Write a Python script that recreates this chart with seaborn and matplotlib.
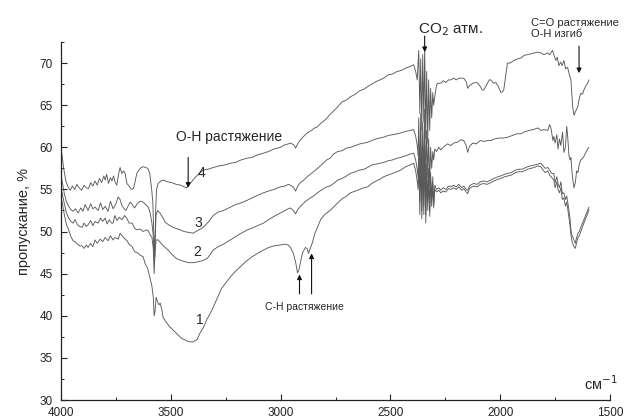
"""
IR transmission spectra (curves 1-4), recreated with seaborn.
"""
import matplotlib
matplotlib.use("Agg")
import matplotlib.pyplot as plt
from matplotlib.ticker import MultipleLocator
import pandas as pd
import seaborn as sns

# ---------------------------------------------------------------------------
# wavenumber (cm-1) / transmission (%)
WN4 = [4000, 3995, 3988, 3978, 3968, 3958, 3948, 3938, 3928, 3918, 3906, 3895, 3885, 3875,
       3865, 3855, 3845, 3835, 3825, 3815, 3805, 3799, 3792, 3784, 3775, 3768, 3761, 3754,
       3746, 3738, 3731, 3723, 3715, 3708, 3700, 3690, 3680, 3670, 3662, 3655, 3645, 3635,
       3625, 3615, 3605, 3596, 3588, 3582, 3576, 3573, 3569, 3565, 3558, 3545, 3533, 3515,
       3495, 3475, 3455, 3440, 3427, 3415, 3390, 3370, 3352, 3330, 3307, 3280, 3255, 3229,
       3205, 3180, 3153, 3130, 3105, 3078, 3055, 3030, 3001, 2980, 2965, 2955, 2940, 2932,
       2922, 2910, 2895, 2879, 2860, 2845, 2834, 2815, 2795, 2775, 2759, 2740, 2720, 2700,
       2682, 2660, 2640, 2620, 2604, 2585, 2565, 2548, 2531, 2510, 2490, 2470, 2453, 2430,
       2410, 2394, 2385, 2378, 2371, 2366, 2362, 2357, 2353, 2348, 2344, 2339, 2335, 2330,
       2326, 2321, 2317, 2312, 2307, 2303, 2298, 2290, 2285, 2271, 2260, 2248, 2235, 2225,
       2212, 2200, 2189, 2180, 2166, 2155, 2148, 2140, 2125, 2110, 2102, 2090, 2082, 2075,
       2060, 2050, 2043, 2030, 2020, 2008, 1997, 1990, 1984, 1975, 1967, 1955, 1938, 1920,
       1905, 1892, 1875, 1860, 1845, 1830, 1815, 1800, 1785, 1775, 1762, 1755, 1746, 1740,
       1733, 1725, 1718, 1710, 1702, 1693, 1687, 1678, 1673, 1670, 1664, 1656, 1647, 1640,
       1633, 1625, 1619, 1610, 1602, 1596]
T4 = [59.8, 59.0, 57.5, 56.0, 55.3, 54.9, 55.4, 55.0, 55.6, 55.2, 54.9, 55.5, 55.2, 55.1,
      55.8, 55.4, 56.0, 55.5, 56.3, 55.8, 56.6, 56.1, 56.8, 55.7, 56.4, 56.0, 56.6, 55.9,
      55.5, 56.8, 57.6, 56.9, 57.2, 56.9, 55.7, 55.4, 55.0, 55.1, 56.0, 56.9, 57.3, 57.6,
      57.7, 57.6, 57.5, 56.9, 55.2, 53.5, 48.5, 47.0, 52.5, 55.0, 55.7, 56.0, 56.1, 55.9,
      55.8, 55.6, 55.5, 55.3, 55.2, 55.6, 56.4, 56.9, 57.3, 57.4, 57.6, 57.8, 57.9, 58.1,
      58.2, 58.5, 58.7, 58.8, 59.1, 59.3, 59.5, 59.8, 60.0, 60.3, 60.4, 60.5, 60.3, 59.9,
      60.4, 60.9, 61.3, 61.7, 62.0, 62.3, 62.4, 62.9, 63.3, 63.9, 64.3, 64.8, 65.4, 65.6,
      66.0, 66.3, 66.7, 66.9, 67.2, 67.5, 67.8, 68.0, 68.2, 68.6, 68.7, 69.0, 69.1, 69.4,
      69.6, 69.8, 69.0, 68.0, 71.5, 64.0, 70.5, 62.0, 71.0, 63.0, 72.0, 61.0, 69.0, 60.5,
      68.0, 62.0, 67.0, 63.5, 66.5, 65.0, 66.0, 67.4, 67.6, 67.6, 67.9, 67.7, 68.0, 68.0,
      68.2, 68.0, 68.2, 68.2, 68.2, 67.8, 67.0, 67.3, 67.6, 67.7, 67.6, 67.2, 66.8, 66.8,
      67.5, 68.0, 68.0, 67.6, 67.7, 67.2, 66.5, 66.6, 66.8, 68.5, 70.0, 70.0, 70.3, 70.5,
      70.6, 70.9, 71.0, 71.1, 71.2, 71.3, 71.2, 71.0, 71.2, 71.0, 71.5, 70.9, 70.3, 70.7,
      69.7, 70.1, 69.7, 70.3, 69.3, 69.5, 68.8, 68.0, 66.0, 64.8, 63.8, 64.3, 64.8, 65.8,
      66.4, 66.3, 66.8, 67.3, 67.6, 68.0]

WN3 = [4000, 3995, 3985, 3975, 3965, 3955, 3945, 3935, 3922, 3910, 3900, 3890, 3877, 3865,
       3855, 3845, 3831, 3820, 3810, 3799, 3786, 3775, 3763, 3750, 3740, 3731, 3723, 3715,
       3705, 3695, 3685, 3676, 3665, 3653, 3640, 3626, 3615, 3603, 3594, 3586, 3580, 3576,
       3572, 3567, 3560, 3550, 3535, 3526, 3510, 3490, 3480, 3457, 3440, 3420, 3398, 3380,
       3365, 3352, 3330, 3307, 3285, 3260, 3229, 3205, 3180, 3153, 3130, 3105, 3078, 3055,
       3030, 3001, 2980, 2965, 2955, 2940, 2932, 2922, 2910, 2895, 2879, 2855, 2832, 2810,
       2790, 2775, 2759, 2740, 2720, 2700, 2682, 2660, 2640, 2620, 2604, 2585, 2565, 2548,
       2531, 2510, 2490, 2470, 2453, 2430, 2410, 2394, 2385, 2378, 2374, 2371, 2366, 2362,
       2357, 2353, 2348, 2344, 2339, 2335, 2330, 2326, 2321, 2317, 2312, 2307, 2303, 2298,
       2290, 2280, 2271, 2255, 2240, 2225, 2212, 2195, 2180, 2166, 2155, 2148, 2140, 2125,
       2110, 2090, 2075, 2055, 2043, 2025, 2005, 1985, 1965, 1945, 1925, 1905, 1892, 1870,
       1850, 1828, 1815, 1800, 1783, 1775, 1769, 1760, 1756, 1750, 1742, 1737, 1730, 1724,
       1716, 1710, 1703, 1697, 1692, 1687, 1682, 1678, 1673, 1669, 1664, 1658, 1652, 1646,
       1640, 1633, 1625, 1619, 1610, 1602, 1596]
T3 = [56.5, 56.0, 54.5, 53.5, 53.0, 52.6, 52.4, 52.7, 52.2, 52.8, 52.4, 53.2, 52.5, 53.3,
      52.7, 52.9, 52.5, 53.4, 52.6, 53.0, 52.4, 53.6, 52.7, 53.3, 54.1, 53.8, 53.1, 52.8,
      52.5, 53.0, 53.5, 53.2, 52.8, 53.3, 53.6, 53.5, 53.2, 52.9, 52.2, 51.0, 49.5, 46.5,
      49.0, 52.0, 52.5, 52.2, 51.6, 51.1, 50.8, 50.5, 50.4, 50.2, 50.0, 49.9, 49.8, 50.1,
      50.3, 50.5, 51.1, 51.9, 52.3, 52.5, 52.9, 53.2, 53.4, 53.7, 54.0, 54.3, 54.6, 54.8,
      55.0, 55.3, 55.4, 55.6, 55.5, 55.2, 54.8, 55.4, 55.8, 56.1, 56.5, 57.0, 57.5, 58.0,
      58.5, 58.7, 59.2, 59.5, 59.6, 59.9, 60.0, 60.2, 60.4, 60.5, 60.6, 60.8, 61.0, 61.1,
      61.2, 61.4, 61.5, 61.6, 61.7, 61.9, 62.0, 62.1, 61.3, 60.3, 59.0, 63.5, 56.5, 64.0,
      55.5, 63.0, 56.0, 64.5, 55.0, 62.0, 56.5, 61.0, 55.5, 60.0, 57.5, 59.5, 58.5, 59.8,
      59.5, 60.0, 59.7, 60.1, 60.4, 60.2, 60.5, 60.6, 60.9, 60.8, 60.2, 59.4, 60.1, 60.5,
      60.4, 60.8, 60.7, 60.8, 60.8, 61.0, 61.1, 61.1, 61.2, 61.4, 61.6, 61.6, 61.8, 62.0,
      62.1, 62.3, 62.0, 62.1, 62.0, 62.7, 62.3, 60.8, 61.3, 60.5, 61.5, 59.8, 61.0, 60.2,
      61.8, 59.4, 60.0, 62.5, 61.0, 59.0, 58.5, 58.8, 57.0, 56.1, 55.2, 55.8, 57.2, 57.0,
      58.0, 58.5, 58.7, 58.9, 59.4, 59.8, 60.0]

WN2 = [4000, 3995, 3985, 3975, 3965, 3955, 3945, 3936, 3925, 3915, 3904, 3895, 3885, 3877,
       3865, 3855, 3845, 3831, 3820, 3810, 3799, 3790, 3780, 3770, 3763, 3755, 3745, 3735,
       3722, 3710, 3699, 3690, 3676, 3665, 3655, 3640, 3626, 3610, 3603, 3594, 3586, 3580,
       3576, 3572, 3567, 3557, 3545, 3530, 3512, 3495, 3475, 3457, 3434, 3415, 3398, 3380,
       3360, 3334, 3320, 3307, 3285, 3260, 3229, 3205, 3180, 3151, 3130, 3105, 3078, 3055,
       3030, 3001, 2980, 2965, 2955, 2942, 2932, 2922, 2910, 2890, 2870, 2851, 2832, 2810,
       2790, 2775, 2759, 2740, 2720, 2700, 2682, 2660, 2640, 2620, 2604, 2585, 2565, 2548,
       2531, 2510, 2490, 2470, 2453, 2430, 2410, 2394, 2385, 2378, 2374, 2371, 2366, 2362,
       2357, 2353, 2348, 2344, 2339, 2335, 2330, 2326, 2321, 2317, 2312, 2307, 2303, 2298,
       2290, 2280, 2271, 2260, 2248, 2235, 2225, 2212, 2200, 2189, 2175, 2166, 2155, 2148,
       2140, 2130, 2120, 2105, 2090, 2075, 2060, 2043, 2030, 2010, 1997, 1980, 1965, 1950,
       1930, 1915, 1900, 1892, 1875, 1860, 1845, 1830, 1815, 1805, 1795, 1783, 1775, 1765,
       1756, 1750, 1742, 1737, 1730, 1724, 1717, 1710, 1703, 1697, 1692, 1687, 1682, 1678,
       1673, 1669, 1664, 1658, 1652, 1646, 1640, 1633, 1625, 1619, 1610, 1602, 1596]
T2 = [55.0, 54.6, 53.3, 52.2, 51.6, 51.2, 51.0, 51.4, 50.8, 50.6, 50.5, 51.0, 50.6, 50.8,
      51.3, 50.7, 51.2, 51.0, 51.6, 51.2, 51.6, 50.9, 51.4, 51.0, 51.0, 51.9, 51.3, 51.7,
      51.4, 51.9, 51.5, 51.0, 51.0, 50.4, 50.2, 50.3, 50.0, 50.2, 50.1, 49.6, 49.3, 48.0,
      45.0, 47.5, 49.0, 49.0, 48.6, 48.2, 47.8, 47.3, 46.8, 46.6, 46.4, 46.3, 46.3, 46.4,
      46.5, 46.8, 47.3, 47.8, 48.2, 48.5, 49.0, 49.4, 49.8, 50.2, 50.4, 50.7, 51.0, 51.4,
      51.8, 52.2, 52.5, 52.7, 52.8, 52.5, 52.1, 52.6, 53.0, 53.5, 53.9, 54.2, 54.6, 55.0,
      55.3, 55.4, 55.7, 56.1, 56.3, 56.6, 56.9, 57.1, 57.3, 57.4, 57.6, 57.9, 58.0, 58.1,
      58.2, 58.4, 58.5, 58.7, 58.8, 59.0, 59.2, 59.3, 58.5, 57.4, 56.5, 59.5, 53.5, 60.0,
      52.5, 59.0, 53.0, 60.5, 52.0, 58.0, 53.5, 57.5, 52.5, 57.0, 54.0, 56.5, 53.2, 55.5,
      55.0, 55.2, 54.9, 55.2, 55.0, 55.4, 55.3, 55.5, 55.3, 55.6, 55.2, 55.4, 55.0, 54.9,
      55.4, 55.6, 55.7, 55.6, 55.9, 56.0, 55.9, 56.1, 56.3, 56.5, 56.6, 56.8, 56.9, 57.0,
      57.3, 57.4, 57.4, 57.5, 57.7, 57.8, 57.9, 58.0, 58.1, 57.8, 57.5, 57.6, 57.3, 56.9,
      56.9, 55.8, 56.5, 55.7, 55.2, 55.9, 54.5, 54.6, 53.8, 54.2, 53.4, 52.5, 51.5, 50.2,
      49.5, 49.3, 49.0, 48.6, 49.3, 49.8, 50.0, 50.5, 51.0, 51.4, 52.0, 52.5, 52.9]

WN1 = [4000, 3995, 3985, 3975, 3968, 3955, 3945, 3936, 3925, 3915, 3904, 3895, 3885, 3877,
       3865, 3855, 3845, 3835, 3822, 3810, 3799, 3786, 3775, 3763, 3754, 3740, 3731, 3722,
       3712, 3699, 3690, 3676, 3665, 3653, 3640, 3626, 3617, 3605, 3594, 3586, 3580, 3576,
       3572, 3567, 3562, 3555, 3548, 3540, 3535, 3520, 3505, 3489, 3470, 3450, 3425, 3412,
       3398, 3380, 3366, 3352, 3335, 3320, 3307, 3290, 3270, 3250, 3229, 3205, 3180, 3151,
       3130, 3105, 3078, 3055, 3030, 3001, 2980, 2965, 2955, 2942, 2932, 2923, 2917, 2910,
       2900, 2887, 2880, 2873, 2865, 2855, 2845, 2832, 2818, 2800, 2780, 2759, 2740, 2720,
       2700, 2682, 2660, 2640, 2620, 2604, 2585, 2565, 2548, 2531, 2510, 2490, 2470, 2453,
       2430, 2410, 2394, 2385, 2378, 2374, 2371, 2366, 2362, 2357, 2353, 2348, 2344, 2339,
       2335, 2330, 2326, 2321, 2317, 2312, 2307, 2303, 2298, 2290, 2280, 2271, 2260, 2248,
       2235, 2225, 2212, 2200, 2189, 2175, 2166, 2155, 2148, 2140, 2130, 2120, 2105, 2090,
       2075, 2060, 2043, 2030, 2010, 1997, 1980, 1965, 1950, 1930, 1915, 1900, 1892, 1875,
       1860, 1845, 1830, 1815, 1805, 1795, 1783, 1775, 1765, 1756, 1750, 1742, 1737, 1730,
       1724, 1717, 1710, 1703, 1697, 1692, 1687, 1682, 1678, 1673, 1669, 1664, 1658, 1652,
       1646, 1640, 1633, 1625, 1619, 1610, 1602, 1596]
T1 = [54.0, 53.5, 52.0, 50.8, 50.4, 49.4, 48.9, 48.8, 48.5, 48.3, 48.3, 48.0, 48.4, 48.1,
      48.6, 48.2, 49.0, 48.6, 49.1, 48.8, 49.3, 48.9, 49.5, 49.0, 49.3, 49.1, 49.8, 49.5,
      49.2, 48.9, 48.5, 48.2, 47.6, 47.5, 47.2, 47.0, 46.2, 45.6, 44.4, 43.5, 42.2, 40.0,
      40.5, 42.2, 41.8, 41.3, 41.5, 40.6, 39.8, 39.2, 38.7, 38.3, 37.8, 37.3, 37.0, 36.9,
      36.9, 37.2, 38.0, 38.6, 39.6, 40.3, 41.0, 42.0, 43.2, 43.9, 44.6, 45.3, 45.9, 46.6,
      47.0, 47.4, 47.8, 48.1, 48.3, 48.4, 48.5, 48.4, 48.1, 47.4, 46.4, 45.1, 45.4, 46.3,
      47.5, 48.1, 48.0, 47.4, 48.0, 48.7, 49.7, 50.5, 51.4, 52.0, 52.4, 52.9, 53.4, 53.9,
      54.2, 54.6, 54.8, 55.0, 55.2, 55.3, 55.7, 56.0, 56.2, 56.5, 56.7, 56.9, 57.1, 57.3,
      57.7, 57.9, 58.1, 57.2, 56.0, 55.0, 58.5, 52.0, 58.8, 51.5, 58.0, 52.0, 59.0, 51.0,
      57.0, 52.5, 56.5, 51.8, 56.0, 53.0, 55.5, 52.8, 55.0, 54.7, 54.9, 54.6, 54.8, 54.7,
      55.1, 55.0, 55.2, 55.0, 55.3, 54.9, 55.1, 54.7, 54.5, 55.1, 55.3, 55.4, 55.3, 55.6,
      55.7, 55.6, 55.8, 56.0, 56.2, 56.3, 56.5, 56.6, 56.7, 57.0, 57.1, 57.1, 57.2, 57.4,
      57.5, 57.6, 57.8, 57.7, 57.3, 57.0, 57.2, 56.7, 56.4, 56.1, 55.2, 55.9, 55.0, 54.6,
      55.2, 53.8, 54.0, 53.0, 53.5, 52.6, 51.6, 50.7, 49.6, 48.8, 48.5, 48.2, 48.0, 48.7,
      49.3, 49.5, 50.0, 50.6, 51.0, 51.6, 52.1, 52.6]

CURVE_NAMES = ["1", "2", "3", "4"]
X_TICKS = [4000, 3500, 3000, 2500, 2000, 1500]
Y_TICKS = [30, 35, 40, 45, 50, 55, 60, 65, 70]

LINE_COLOR = "#5a5a5a"
FONT = ["Liberation Sans", "DejaVu Sans"]


def build_frame():
    parts = []
    for name, wn, t in zip(CURVE_NAMES, [WN1, WN2, WN3, WN4], [T1, T2, T3, T4]):
        parts.append(pd.DataFrame({"wn": wn, "t": t, "curve": name}))
    return pd.concat(parts, ignore_index=True)


def main():
    sns.set_style("ticks")
    plt.rcParams["font.family"] = FONT
    plt.rcParams["xtick.direction"] = "in"
    plt.rcParams["ytick.direction"] = "in"

    df = build_frame()

    fig = plt.figure(figsize=(6.43, 4.19), dpi=100)
    ax = fig.add_axes([0.0949, 0.0453, 0.8538, 0.8545])

    sns.lineplot(data=df, x="wn", y="t", hue="curve", units="curve",
                 palette=[LINE_COLOR] * 4, estimator=None, sort=False,
                 legend=False, linewidth=0.65, ax=ax)

    ax.set_xlim(4000, 1500)
    ax.set_ylim(30, 72.5)
    ax.set_xticks(X_TICKS)
    ax.set_yticks(Y_TICKS)
    ax.xaxis.set_minor_locator(MultipleLocator(250))
    ax.yaxis.set_minor_locator(MultipleLocator(2.5))
    ax.tick_params(which="major", length=4, width=0.8, labelsize=8.5, colors="#222222")
    ax.tick_params(which="minor", length=2, width=0.7)
    ax.tick_params(axis="x", pad=5)
    ax.tick_params(axis="y", pad=6)
    for side in ["top", "right"]:
        ax.spines[side].set_visible(False)
    for side in ["left", "bottom"]:
        ax.spines[side].set_linewidth(0.9)
        ax.spines[side].set_color("#222222")

    ax.set_xlabel("")
    ax.set_ylabel("пропускание, %", fontsize=10.5, labelpad=6)
    ax.text(1620, 32.0, "см$^{-1}$", fontsize=10.5, ha="left", va="center")

    # curve numbers
    ax.text(3380, 57.0, "4", fontsize=10, ha="left", va="center")
    ax.text(3375, 51.0, "3", fontsize=10, ha="center", va="center")
    ax.text(3380, 47.6, "2", fontsize=10, ha="center", va="center")
    ax.text(3366, 39.5, "1", fontsize=10, ha="center", va="center")

    arrow = dict(arrowstyle="-|>", color="#111111", lw=0.8, mutation_scale=7,
                 shrinkA=0, shrinkB=0)

    # O-H stretch
    ax.text(3236, 61.2, "O-H растяжение", fontsize=10, ha="center", va="center")
    ax.annotate("", xy=(3421, 55.2), xytext=(3421, 58.8), arrowprops=arrow)

    # C-H stretch
    ax.text(2892, 41.0, "C-H растяжение", fontsize=7.5, ha="center", va="center")
    ax.annotate("", xy=(2914, 44.9), xytext=(2914, 42.6), arrowprops=arrow)
    ax.annotate("", xy=(2859, 47.4), xytext=(2859, 42.6), arrowprops=arrow)

    # atmospheric CO2
    ax.annotate("CO$_2$ атм.", xy=(2344, 71.3), xytext=(2376, 74.0),
                textcoords="data", fontsize=11, ha="left", va="center",
                annotation_clip=False)
    ax.annotate("", xy=(2344, 71.3), xytext=(2344, 73.2), arrowprops=arrow,
                annotation_clip=False)

    # C=O stretch / O-H bend
    ax.text(1860, 74.8, "C=O растяжение", fontsize=8, ha="left", va="center")
    ax.text(1860, 73.5, "O-H изгиб", fontsize=8, ha="left", va="center")
    ax.annotate("", xy=(1641, 68.8), xytext=(1641, 72.0), arrowprops=arrow,
                annotation_clip=False)

    fig.savefig("out.png", dpi=100)
    plt.close(fig)


if __name__ == "__main__":
    main()
